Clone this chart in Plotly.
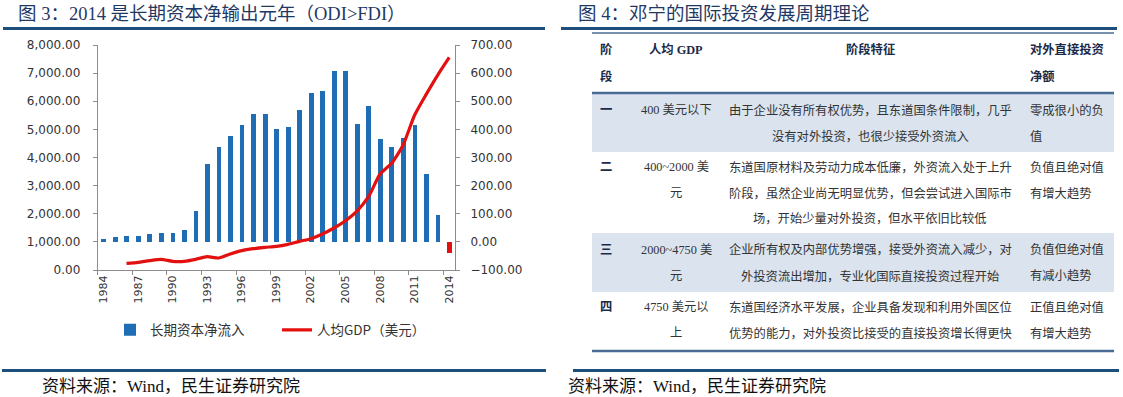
import plotly.graph_objects as go

# ---------------- data ----------------
years = [str(y) for y in range(1984, 2015)]
capital_inflow = [11, 19, 21, 21, 28, 31, 33, 43, 109, 276, 338, 376, 417, 453, 455, 403,
                  407, 470, 529, 536, 608, 606, 420, 484, 367, 336, 370, 414, 240, 96, -39]
gdp_years = [str(y) for y in range(1986, 2015)]
gdp_per_capita = [237, 273, 332, 379, 308, 308, 379, 474, 427, 569, 687, 758, 806, 840, 912,
                  1019, 1114, 1280, 1493, 1754, 2097, 2607, 3413, 3792, 4444, 5510, 6245, 6932, 7560]
series_names = ["长期资本净流入", "人均GDP（美元）"]

left_title = "图 3：2014 是长期资本净输出元年（ODI>FDI）"
right_title = "图 4：邓宁的国际投资发展周期理论"
source_text = "资料来源：Wind，民生证券研究院"

table_header = [["阶", "段"], ["人均 GDP"], ["阶段特征"], ["对外直接投资", "净额"]]
stages = [["一"], ["二"], ["三"], ["四"]]
gdp_levels = [["400 美元以下"], ["400~2000 美", "元"], ["2000~4750 美", "元"], ["4750 美元以", "上"]]
features = [
    ["由于企业没有所有权优势，且东道国条件限制，几乎", "没有对外投资，也很少接受外资流入"],
    ["东道国原材料及劳动力成本低廉，外资流入处于上升", "阶段，虽然企业尚无明显优势，但会尝试进入国际市",
     "场，开始少量对外投资，但水平依旧比较低"],
    ["企业所有权及内部优势增强，接受外资流入减少，对", "外投资流出增加，专业化国际直接投资过程开始"],
    ["东道国经济水平发展，企业具备发现和利用外国区位", "优势的能力，对外投资比接受的直接投资增长得更快"],
]
net_fdi = [["零成很小的负", "值"], ["负值且绝对值", "有增大趋势"], ["负值但绝对值", "有减小趋势"],
           ["正值且绝对值", "有增大趋势"]]

# ---------------- layout helpers ----------------
W, H = 1123, 397


def px(x):
    return x / W


def py(y):
    return 1 - y / H


BLUE = "#1F6EB5"
RED = "#E31010"
NAVY = "#1F3864"
LINE_BLUE = "#1D4E7C"
TABLE_LINE = "#4A6C94"
SHADE = "#DAE3EE"
SERIF_CJK = "Liberation Serif, Noto Sans CJK SC"
SANS = "DejaVu Sans, Noto Sans CJK SC"

bar_colors = [RED if v < 0 else BLUE for v in capital_inflow]

fig = go.Figure()
fig.add_trace(go.Bar(x=years, y=capital_inflow, name=series_names[0], marker_color=bar_colors,
                     marker_line_width=0, width=0.42, yaxis="y"))
fig.add_trace(go.Scatter(x=gdp_years, y=gdp_per_capita, name=series_names[1], mode="lines",
                         line=dict(color=RED, width=3.2, shape="spline", smoothing=0.6), yaxis="y2"))

axis_common = dict(showline=True, linecolor="#8C8C8C", linewidth=1, ticks="outside", ticklen=4,
                   tickcolor="#8C8C8C", showgrid=False, zeroline=False, automargin=False,
                   tickfont=dict(family=SANS, size=12, color="#333333"))

fig.update_layout(
    width=W, height=H, autosize=False,
    margin=dict(l=0, r=0, t=0, b=0),
    paper_bgcolor="white", plot_bgcolor="rgba(0,0,0,0)",
    showlegend=True,
    bargap=0,
    xaxis=dict(type="category", categoryorder="array", categoryarray=years,
               domain=[px(97.7), px(455)], anchor="y", tickson="boundaries",
               tickmode="linear", tick0=0, dtick=3, tickangle=-90,
               **{k: v for k, v in axis_common.items() if k != "tickfont"},
               tickfont=dict(family=SANS, size=11, color="#333333")),
    yaxis=dict(domain=[py(270), py(45)], side="right", anchor="x", range=[-100, 700],
               tickmode="linear", tick0=0, dtick=100, tickformat=".2f", ticklabelstandoff=8,
               **axis_common),
    yaxis2=dict(overlaying="y", side="left", anchor="x", range=[0, 8000],
                tickmode="linear", tick0=0, dtick=1000, tickformat=",.2f", ticklabelstandoff=10,
                **axis_common),
    legend=dict(orientation="h", x=px(110), y=py(330), xanchor="left", yanchor="middle",
                font=dict(family="Noto Sans CJK SC", size=13.5, color="#333333"),
                bgcolor="rgba(0,0,0,0)", itemwidth=30, entrywidth=122, traceorder="normal"),
)

shapes = []
annotations = []


def hline(x0, x1, y, color, width):
    shapes.append(dict(type="line", xref="paper", yref="paper", x0=px(x0), x1=px(x1),
                       y0=py(y), y1=py(y), line=dict(color=color, width=width)))


# title underlines and source lines
hline(3, 545, 28.5, LINE_BLUE, 3)
hline(561, 1117, 28.5, LINE_BLUE, 3)
hline(2, 546, 370.5, LINE_BLUE, 3)
hline(573, 1119, 370.5, LINE_BLUE, 3)

# titles
for txt, x0 in [(left_title, 16), (right_title, 576)]:
    annotations.append(dict(text=txt, xref="paper", yref="paper", x=px(x0), y=py(14),
                            xanchor="left", yanchor="middle", showarrow=False,
                            font=dict(family=SERIF_CJK, size=18.5, color=NAVY)))
# sources
for x0 in [40, 566]:
    annotations.append(dict(text=source_text, xref="paper", yref="paper", x=px(x0), y=py(386),
                            xanchor="left", yanchor="middle", showarrow=False,
                            font=dict(family=SERIF_CJK, size=17, color="#111111")))

# ---------------- table ----------------
TBL_X0, TBL_X1 = 592, 1114
row_top = [93, 152, 233, 292]
row_bottom = [152, 233, 292, 351]
row_first_line = [110, 167, 250, 307]
header_first_line = 50
line_step = 26
col_x = [606, 676, 870, 1028]
col_anchor = ["center", "center", "center", "left"]

# shaded rows
for i in (0, 2):
    shapes.append(dict(type="rect", xref="paper", yref="paper", x0=px(TBL_X0), x1=px(TBL_X1),
                       y0=py(row_bottom[i]), y1=py(row_top[i]), fillcolor=SHADE, line_width=0,
                       layer="below"))
hline(TBL_X0, TBL_X1, 33, TABLE_LINE, 1.5)
hline(TBL_X0, TBL_X1, 93, TABLE_LINE, 2.5)
hline(TBL_X0, TBL_X1, 351, TABLE_LINE, 2.5)


def cell(lines, col, y_first, bold=False, color="#333333"):
    for k, t in enumerate(lines):
        annotations.append(dict(text=f"<b>{t}</b>" if bold else t, xref="paper", yref="paper",
                                x=px(col_x[col]), y=py(y_first + k * line_step),
                                xanchor=col_anchor[col], yanchor="middle", showarrow=False,
                                font=dict(family=SERIF_CJK, size=12.3, color=color)))


for c, lines in enumerate(table_header):
    cell(lines, c, header_first_line, bold=True, color="#1B2A48")
for r in range(4):
    cell(stages[r], 0, row_first_line[r], bold=True, color="#1B2A48")
    cell(gdp_levels[r], 1, row_first_line[r])
    cell(features[r], 2, row_first_line[r])
    cell(net_fdi[r], 3, row_first_line[r])

fig.update_layout(shapes=shapes, annotations=annotations)
fig.write_html("out.html", config={"displayModeBar": False},
               post_script="document.body.style.margin='0';document.body.style.overflow='hidden';")
